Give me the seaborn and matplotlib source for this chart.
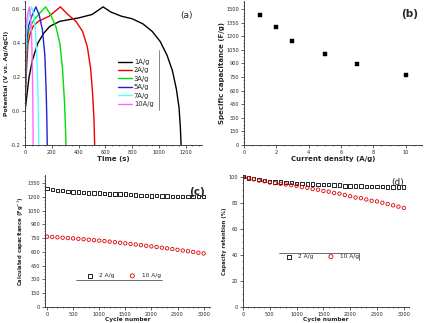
import matplotlib
matplotlib.use("Agg")
import matplotlib.pyplot as plt
import seaborn as sns
import pandas as pd

# (a) galvanostatic charge/discharge curves
t_1 = [0, 15, 30, 55, 95, 140, 185, 260, 400, 500, 583, 640, 720, 800, 880, 950, 1010, 1060, 1100, 1130, 1150, 1160, 1165]
v_1 = [0.0, 0.1, 0.2, 0.3, 0.4, 0.46, 0.5, 0.53, 0.55, 0.57, 0.615, 0.585, 0.56, 0.545, 0.515, 0.47, 0.41, 0.33, 0.24, 0.13, 0.02, -0.1, -0.2]
t_2 = [0, 8, 22, 40, 60, 100, 180, 264, 320, 380, 430, 465, 490, 505, 515, 520]
v_2 = [0.0, 0.2, 0.4, 0.46, 0.5, 0.53, 0.56, 0.615, 0.57, 0.53, 0.47, 0.38, 0.25, 0.1, -0.05, -0.2]
t_3 = [0, 6, 15, 30, 60, 100, 154, 190, 230, 260, 280, 295, 302, 306]
v_3 = [0.0, 0.25, 0.4, 0.48, 0.53, 0.57, 0.615, 0.57, 0.5, 0.4, 0.25, 0.05, -0.1, -0.2]
t_5 = [0, 5, 12, 25, 50, 81, 105, 130, 148, 158, 163, 166]
v_5 = [0.0, 0.25, 0.42, 0.5, 0.56, 0.615, 0.57, 0.48, 0.33, 0.12, -0.05, -0.2]
t_7 = [0, 4, 10, 20, 35, 49, 65, 80, 92, 99, 103]
v_7 = [0.0, 0.3, 0.45, 0.53, 0.58, 0.615, 0.57, 0.45, 0.25, 0.02, -0.2]
t_10 = [0, 3, 8, 16, 25, 32, 42, 50, 56, 59, 61]
v_10 = [0.0, 0.35, 0.5, 0.56, 0.59, 0.615, 0.56, 0.42, 0.2, 0.0, -0.2]
rate_labels = ['1A/g', '2A/g', '3A/g', '5A/g', '7A/g', '10A/g']
rate_colors = ['black', '#ee0000', '#00dd00', '#2222cc', '#55ffff', '#ff66ff']

# (b) specific capacitance vs current density
current_density = [1, 2, 3, 5, 7, 10]
spec_cap = [1440, 1304, 1145, 1005, 894, 772]

# (c) / (d) cycling
cycles = list(range(0, 3001, 100))
cap_2 = [1292, 1278, 1270, 1265, 1258, 1252, 1250, 1247, 1242, 1240, 1240, 1236, 1232, 1230, 1230, 1228,
         1222, 1220, 1215, 1212, 1210, 1212, 1210, 1207, 1205, 1205, 1203, 1202, 1200, 1200, 1200]
cap_10 = [765, 762, 758, 754, 750, 746, 742, 737, 732, 727, 722, 717, 711, 705, 699, 692, 686,
          680, 673, 666, 659, 652, 645, 638, 630, 622, 614, 606, 598, 590, 582]
ret_2 = [100, 99, 98.5, 98, 97, 96.5, 96, 96, 95.5, 95.5, 95, 95, 94.5, 94.5, 94, 94, 94, 93.5,
         93.5, 93, 93, 93, 93, 92.5, 92.5, 92.5, 92.5, 92, 92, 92, 92]
ret_10 = [100, 99, 98, 97, 96.5, 95.5, 95, 94.5, 94, 93.5, 93, 92, 91.5, 90.5, 90, 89, 88.5, 87.5,
          87, 86, 85, 84, 83.5, 82.5, 81.5, 81, 80, 79, 78, 77, 76]

sns.set_style("ticks")
plt.rcParams['font.family'] = ['DejaVu Sans']
plt.rcParams['axes.linewidth'] = 0.6
for k in ['xtick', 'ytick']:
    plt.rcParams[k + '.major.width'] = 0.5
    plt.rcParams[k + '.minor.width'] = 0.4
    plt.rcParams[k + '.major.size'] = 2
    plt.rcParams[k + '.minor.size'] = 1
    plt.rcParams[k + '.labelsize'] = 3.6
    plt.rcParams[k + '.major.pad'] = 1.5

fig = plt.figure(figsize=(4.24, 3.23), dpi=100)
ax_a = fig.add_axes([0.059, 0.551, 0.417, 0.446])
ax_b = fig.add_axes([0.575, 0.551, 0.42, 0.446])
ax_c = fig.add_axes([0.106, 0.050, 0.389, 0.409])
ax_d = fig.add_axes([0.573, 0.050, 0.392, 0.409])

# ---- (a)
frames = []
for t, v, lab in zip([t_1, t_2, t_3, t_5, t_7, t_10], [v_1, v_2, v_3, v_5, v_7, v_10], rate_labels):
    frames.append(pd.DataFrame({'Time': t, 'Potential': v, 'Rate': lab}))
df_a = pd.concat(frames)
sns.lineplot(data=df_a, x='Time', y='Potential', hue='Rate', palette=rate_colors,
             estimator=None, sort=False, lw=1.0, ax=ax_a)
ax_a.set_xlim(0, 1320)
ax_a.set_ylim(-0.2, 0.65)
ax_a.set_xticks([0, 200, 400, 600, 800, 1000, 1200])
ax_a.set_yticks([-0.2, 0.0, 0.2, 0.4, 0.6])
ax_a.set_yticklabels(['-0.2', '0.0', '0.2', '0.4', '0.6'])
ax_a.set_xlabel('Time (s)', fontsize=5, fontweight='bold', labelpad=0.5)
ax_a.set_ylabel('Potential (V vs. Ag/AgCl)', fontsize=4.4, fontweight='bold', labelpad=1)
ax_a.text(0.915, 0.90, '(a)', transform=ax_a.transAxes, fontsize=6.5, ha='center', va='center')
ax_a.legend(loc='upper left', bbox_to_anchor=(0.5, 0.63), frameon=False, fontsize=4.9,
            handlelength=2.0, handletextpad=0.3, labelspacing=0.35, borderpad=0.2)
ax_a.plot([0.755, 0.755], [0.24, 0.66], transform=ax_a.transAxes, color='#555555', lw=0.5)

# ---- (b)
sns.scatterplot(x=current_density, y=spec_cap, marker='s', s=7, color='black', edgecolor='black',
                linewidth=0.3, ax=ax_b)
ax_b.set_xlim(0, 11)
ax_b.set_ylim(0, 1590)
ax_b.set_xticks([0, 2, 4, 6, 8, 10])
ax_b.set_yticks(list(range(0, 1501, 150)))
ax_b.set_xlabel('Current density (A/g)', fontsize=5, fontweight='bold', labelpad=0.5)
ax_b.set_ylabel('Specific capacitance (F/g)', fontsize=5, fontweight='bold', labelpad=1)
ax_b.text(0.93, 0.91, '(b)', transform=ax_b.transAxes, fontsize=7.5, fontweight='bold',
          ha='center', va='center')

# ---- (c)
sns.scatterplot(x=cycles, y=cap_2, marker='s', s=6, facecolor='none', edgecolor='black',
                linewidth=0.6, ax=ax_c, label='2 A/g')
sns.scatterplot(x=cycles, y=cap_10, marker='o', s=6, facecolor='none', edgecolor='#e00000',
                linewidth=0.6, ax=ax_c, label='10 A/g')
ax_c.set_xlim(-40, 3120)
ax_c.set_ylim(0, 1440)
ax_c.set_xticks(list(range(0, 3001, 500)))
ax_c.set_yticks(list(range(0, 1351, 150)))
ax_c.set_xlabel('Cycle number', fontsize=4.2, fontweight='bold', labelpad=0.5)
ax_c.set_ylabel('Calculated capacitance (Fg$^{-1}$)', fontsize=3.8, fontweight='bold', labelpad=1)
ax_c.text(0.92, 0.87, '(c)', transform=ax_c.transAxes, fontsize=7.5, fontweight='bold',
          ha='center', va='center')
ax_c.legend(loc='center', bbox_to_anchor=(0.47, 0.235), ncol=2, frameon=False, fontsize=4.2,
            handletextpad=0.6, columnspacing=2.0, markerscale=1.2)
ax_c.plot([0.19, 0.71], [0.205, 0.205], transform=ax_c.transAxes, color='#333333', lw=0.5)

# ---- (d)
sns.scatterplot(x=cycles, y=ret_2, marker='s', s=6, facecolor='none', edgecolor='black',
                linewidth=0.6, ax=ax_d, label='2 A/g')
sns.scatterplot(x=cycles, y=ret_10, marker='o', s=6, facecolor='none', edgecolor='#e00000',
                linewidth=0.6, ax=ax_d, label='10 A/g')
ax_d.set_xlim(0, 3100)
ax_d.set_ylim(0, 101.5)
ax_d.set_xticks(list(range(0, 3001, 500)))
ax_d.set_yticks(list(range(0, 101, 20)))
ax_d.set_xlabel('Cycle number', fontsize=4.2, fontweight='bold', labelpad=0.5)
ax_d.set_ylabel('Capacity retention (%)', fontsize=3.8, fontweight='bold', labelpad=1)
ax_d.text(0.93, 0.94, '(d)', transform=ax_d.transAxes, fontsize=6.5, ha='center', va='center')
ax_d.legend(loc='center', bbox_to_anchor=(0.47, 0.38), ncol=2, frameon=False, fontsize=4.2,
            handletextpad=0.6, columnspacing=2.0, markerscale=1.2)
ax_d.plot([0.217, 0.70, 0.70], [0.41, 0.41, 0.356], transform=ax_d.transAxes, color='#333333', lw=0.5)

for ax in [ax_a, ax_b, ax_c, ax_d]:
    ax.minorticks_on()
    ax.tick_params(which='both', direction='out')
    sns.despine(ax=ax)

fig.savefig('out.png', dpi=100)
